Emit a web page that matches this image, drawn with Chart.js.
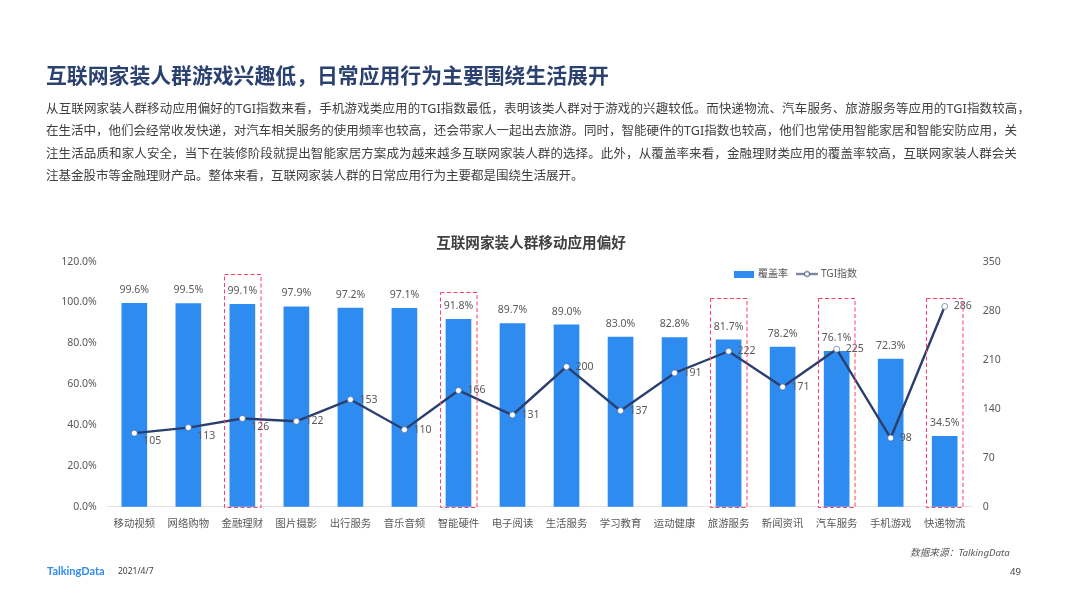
<!DOCTYPE html>
<html lang="zh"><head><meta charset="utf-8">
<script src="https://cdn.jsdelivr.net/npm/chart.js@4/dist/chart.umd.min.js"></script>
<style>
html,body{margin:0;padding:0;background:#fff;width:1066px;height:599px;overflow:hidden;font-family:"Noto Sans","Noto Sans CJK SC",sans-serif}
canvas{position:absolute;left:0;top:0}
.t{position:absolute;white-space:nowrap;line-height:1}
#head{left:46px;top:64px;font-size:20.85px;font-weight:700;color:#2b4170;font-family:"Noto Sans CJK SC",sans-serif}
.b{left:46px;font-size:12.5px;color:#404040}
</style></head><body>
<canvas id="c" width="1066" height="599" style="width:1066px;height:599px"></canvas>
<div class="t" id="head">互联网家装人群游戏兴趣低，日常应用行为主要围绕生活展开</div>
<div class="t b" style="top:103px;letter-spacing:.14px">从互联网家装人群移动应用偏好的TGI指数来看，手机游戏类应用的TGI指数最低，表明该类人群对于游戏的兴趣较低。而快递物流、汽车服务、旅游服务等应用的TGI指数较高，</div>
<div class="t b" style="top:125.4px;letter-spacing:.012px">在生活中，他们会经常收发快递，对汽车相关服务的使用频率也较高，还会带家人一起出去旅游。同时，智能硬件的TGI指数也较高，他们也常使用智能家居和智能安防应用，关</div>
<div class="t b" style="top:147.8px;letter-spacing:.11px">注生活品质和家人安全，当下在装修阶段就提出智能家居方案成为越来越多互联网家装人群的选择。此外，从覆盖率来看，金融理财类应用的覆盖率较高，互联网家装人群会关</div>
<div class="t b" style="top:170.2px">注基金股市等金融理财产品。整体来看，互联网家装人群的日常应用行为主要都是围绕生活展开。</div>
<div class="t" style="left:47px;top:565px;font-size:11px;font-weight:700;color:#2e8bf0;font-family:'Lato',sans-serif">TalkingData</div>
<div class="t" style="left:118px;top:567px;font-size:8.5px;color:#404040">2021/4/7</div>
<div class="t" style="left:910px;top:548px;font-size:9.7px;font-style:italic;color:#595959">数据来源：TalkingData</div>
<div class="t" style="left:1010px;top:566.5px;font-size:9.5px;color:#404040">49</div>
<script>
const categories=["移动视频","网络购物","金融理财","图片摄影","出行服务","音乐音频","智能硬件","电子阅读","生活服务","学习教育","运动健康","旅游服务","新闻资讯","汽车服务","手机游戏","快递物流"];
const coverage=[99.6,99.5,99.1,97.9,97.2,97.1,91.8,89.7,89.0,83.0,82.8,81.7,78.2,76.1,72.3,34.5];
const tgi=[105,113,126,122,153,110,166,131,200,137,191,222,171,225,98,286];
const highlighted=["金融理财","智能硬件","旅游服务","汽车服务","快递物流"];
const highlightTop=[113.9,104.9,102.4,102.4,102.4];
const BAR='#2e8bf0',LINE='#2b3f6f',TXT='#595959';
const FONT='"Noto Sans","Noto Sans CJK SC",sans-serif';

function swatch(w,h,fn){const c=document.createElement('canvas');c.width=w;c.height=h;fn(c.getContext('2d'));return c;}
const barSwatch=swatch(20,7,x=>{x.fillStyle=BAR;x.fillRect(0,0,20,7);});
const lineSwatch=swatch(22,9,x=>{x.strokeStyle=LINE;x.lineWidth=1.5;x.beginPath();x.moveTo(0,4.5);x.lineTo(22,4.5);x.stroke();x.beginPath();x.arc(11,4.5,2.6,0,Math.PI*2);x.fillStyle='#fff';x.fill();x.lineWidth=1;x.stroke();});

const decor={
  id:'decor',
  afterLayout(ch){
    const l=ch.legend;const w=l.right-l.left,h=l.bottom-l.top;
    l.left=796-w/2;l.right=796+w/2;l.top=274-h/2;l.bottom=274+h/2;
    const t=ch.titleBlock;t.top+=20.5;t.bottom+=20.5;t.left-=4;t.right-=0;
  },
  afterDatasetsDraw(ch){
    const c=ch.ctx,x=ch.scales.x,yL=ch.scales.y,bars=ch.getDatasetMeta(0).data,pts=ch.getDatasetMeta(1).data;
    c.save();
    c.font='10.5px '+FONT;c.fillStyle=TXT;c.textBaseline='middle';
    c.textAlign='center';
    bars.forEach((b,i)=>c.fillText(coverage[i].toFixed(1)+'%',b.x,b.y-13.3));
    c.textAlign='left';
    pts.forEach((p,i)=>c.fillText(String(tgi[i]),p.x+9,p.y+(i<3?8.3:0)));
    c.strokeStyle='#ff3b66';c.lineWidth=1;c.setLineDash([4,2.5]);
    highlighted.forEach((n,k)=>{
      const cx=x.getPixelForValue(categories.indexOf(n));
      const top=Math.round(yL.getPixelForValue(highlightTop[k]))+.5;
      const left=Math.round(cx-18.8)+.5;
      c.strokeRect(left,top,36.5,Math.round(yL.getPixelForValue(0))+.5-top);
    });
    c.restore();
  }
};

new Chart(document.getElementById('c'),{
  data:{labels:categories,datasets:[
    {type:'bar',label:'覆盖率',data:coverage,yAxisID:'y',order:2,backgroundColor:BAR,barThickness:25},
    {type:'line',label:'TGI指数',data:tgi,yAxisID:'y2',order:1,borderColor:LINE,borderWidth:2.4,backgroundColor:'#fff',
      pointBackgroundColor:'#fff',pointBorderColor:'#3d5a96',pointBorderWidth:.6,pointRadius:3,tension:0}
  ]},
  options:{
    responsive:false,animation:false,devicePixelRatio:1,
    layout:{padding:{top:204.5,left:0,right:0,bottom:0}},
    plugins:{
      title:{display:true,text:'互联网家装人群移动应用偏好',color:'#404040',font:{family:FONT,size:14.6,weight:'700'},padding:{top:9.6,bottom:0}},
      legend:{display:true,position:'top',
        labels:{usePointStyle:true,pointStyleWidth:18,padding:10,color:TXT,font:{family:FONT,size:10},
          generateLabels(ch){return [
            {text:'覆盖率',fontColor:TXT,pointStyle:barSwatch,datasetIndex:0,lineWidth:0,strokeStyle:'transparent',fillStyle:BAR},
            {text:'TGI指数',fontColor:TXT,pointStyle:lineSwatch,datasetIndex:1,lineWidth:0,strokeStyle:'transparent',fillStyle:LINE}];}}},
      tooltip:{enabled:false}
    },
    scales:{
      x:{grid:{display:false,drawTicks:false},border:{color:'#e3e3e3',width:1},
        ticks:{color:TXT,font:{family:FONT,size:10.4},padding:11,autoSkip:false,maxRotation:0},
        afterFit(s){s.height=92.3;}},
      y:{position:'left',min:0,max:120,grid:{display:false,drawTicks:false},border:{display:false},
        ticks:{stepSize:20,color:TXT,font:{family:FONT,size:10.5},padding:10.5,callback:v=>v.toFixed(1)+'%'},
        afterFit(s){s.width=107.3;}},
      y2:{position:'right',min:0,max:350,grid:{display:false,drawTicks:false},border:{display:false},
        ticks:{stepSize:70,color:TXT,font:{family:FONT,size:10.5},padding:11},
        afterFit(s){s.width=94.3;}}
    }
  },
  plugins:[decor]
});
</script>
</body></html>
